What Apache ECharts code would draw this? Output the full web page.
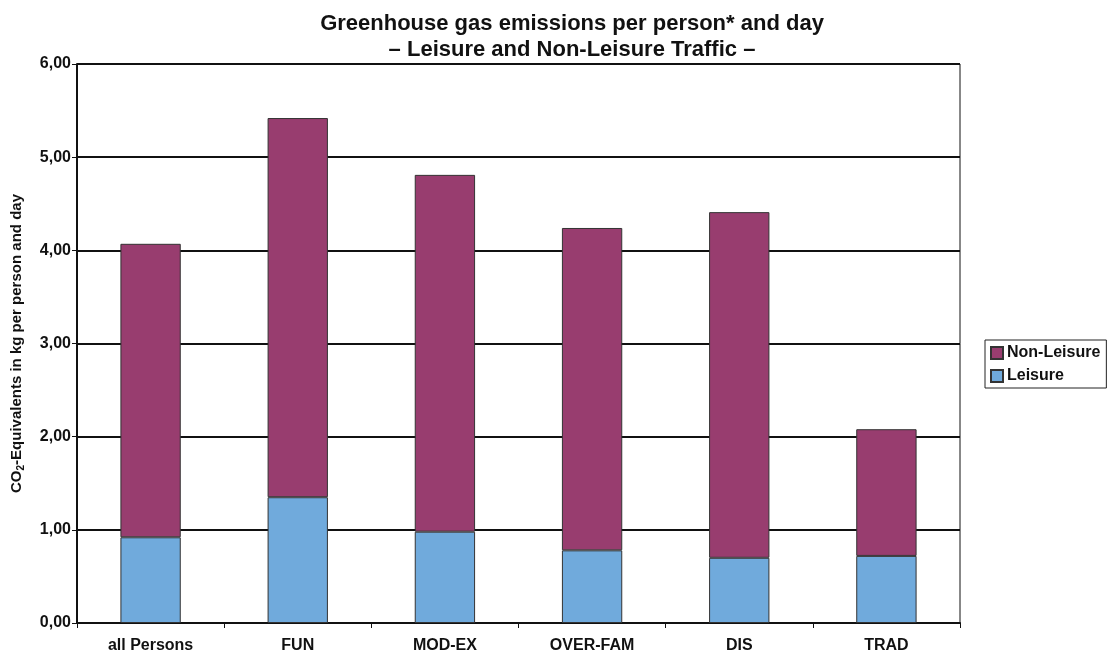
<!DOCTYPE html>
<html><head><meta charset="utf-8">
<script src="https://cdn.jsdelivr.net/npm/echarts@6/dist/echarts.min.js"></script>
<style>html,body{margin:0;padding:0;background:#fff}#c{width:1118px;height:655px}</style>
</head><body><div id="c"></div>
<script>
const categories = ['all Persons', 'FUN', 'MOD-EX', 'OVER-FAM', 'DIS', 'TRAD'];
const leisure = [0.92, 1.35, 0.98, 0.78, 0.70, 0.72];
const nonLeisure = [3.15, 4.07, 3.83, 3.46, 3.71, 1.36];
const titleLines = ['Greenhouse gas emissions per person* and day', '\u2013 Leisure and Non-Leisure Traffic \u2013'];

const FONT = '"Liberation Sans", Arial, sans-serif';
const chart = echarts.init(document.getElementById('c'), null, {renderer: 'canvas'});
chart.setOption({
  backgroundColor: '#fff',
  animation: false,
  title: {
    text: titleLines.join('\n'),
    left: 567, top: 6, textAlign: 'center',
    textStyle: {fontFamily: FONT, fontWeight: 'bold', fontSize: 22, lineHeight: 26, color: '#111'}
  },
  legend: {
    orient: 'vertical', left: 985, top: 340,
    data: ['Non-Leisure', 'Leisure'],
    icon: 'rect',
    itemWidth: 12, itemHeight: 12, itemGap: 7,
    borderColor: '#222', borderWidth: 1, padding: [5, 6, 4, 5],
    textStyle: {fontFamily: FONT, fontWeight: 'bold', fontSize: 16, color: '#111', padding: [0, 0, 0, -1]}
  },
  grid: {left: 77, right: 158, top: 64, bottom: 32, show: true, borderColor: '#111', borderWidth: 1,
    containLabel: false, outerBoundsMode: 'none'},
  xAxis: {
    type: 'category', data: categories,
    axisLine: {lineStyle: {color: '#111', width: 2}},
    axisTick: {show: true, length: 5, lineStyle: {color: '#111'}},
    axisLabel: {fontFamily: FONT, fontWeight: 'bold', fontSize: 16, color: '#111', margin: 15}
  },
  yAxis: {
    type: 'value', min: 0, max: 6, interval: 1,
    name: '{a|CO}{s|2}{a|-Equivalents in kg per person and day}',
    nameLocation: 'middle', nameRotate: 90, nameGap: 51,
    nameTextStyle: {
      rich: {
        a: {fontFamily: FONT, fontWeight: 'bold', fontSize: 15, color: '#111', lineHeight: 18},
        s: {fontFamily: FONT, fontWeight: 'bold', fontSize: 10, color: '#111', verticalAlign: 'bottom', lineHeight: 18, padding: [7, 0, 0, 0]}
      }
    },
    axisLine: {show: true, lineStyle: {color: '#111', width: 2}},
    axisTick: {show: true, length: 5, lineStyle: {color: '#111'}},
    axisLabel: {fontFamily: FONT, fontWeight: 'bold', fontSize: 16, color: '#111', margin: 6,
      formatter: v => v.toFixed(2).replace('.', ',')},
    splitLine: {show: true, lineStyle: {color: '#111', width: 2}}
  },
  series: [
    {name: 'Leisure', type: 'bar', stack: 'total', data: leisure, barWidth: '41%',
      itemStyle: {color: '#70aadc', borderColor: '#333', borderWidth: 1}},
    {name: 'Non-Leisure', type: 'bar', stack: 'total', data: nonLeisure, barWidth: '41%',
      itemStyle: {color: '#983d6f', borderColor: '#333', borderWidth: 1}}
  ]
});
</script>
</body></html>
